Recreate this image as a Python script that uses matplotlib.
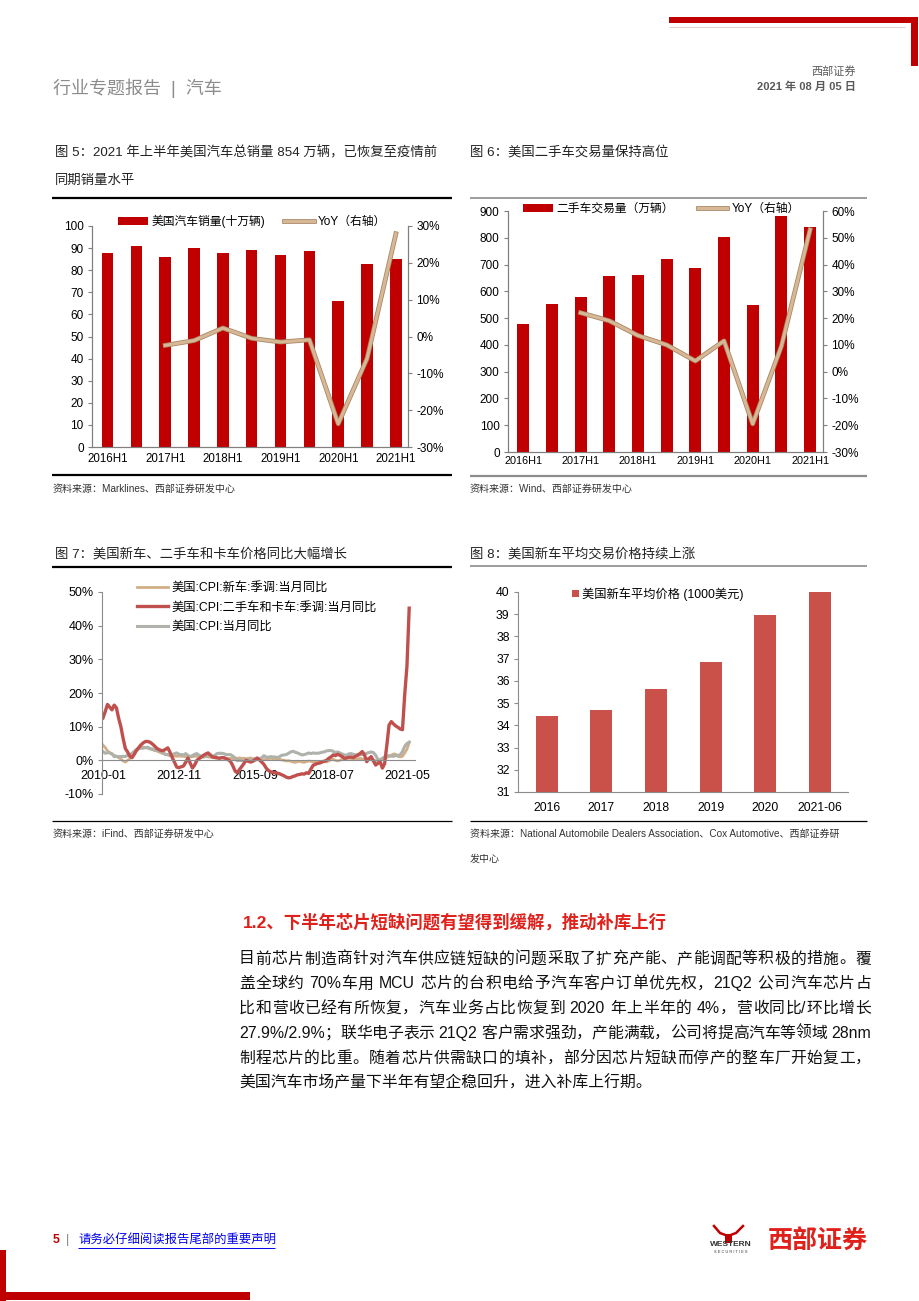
import re
import numpy as np
import pandas as pd
import matplotlib
matplotlib.use('Agg')
import matplotlib.pyplot as plt
from matplotlib.lines import Line2D
from matplotlib.patches import Rectangle
import matplotlib.patheffects as pe
from matplotlib.ticker import FuncFormatter

plt.rcParams['font.family'] = ['Liberation Sans', 'Noto Sans CJK SC']
plt.rcParams['axes.unicode_minus'] = False

# ---------------- 数据 ----------------
half_years = ['2016H1', '2016H2', '2017H1', '2017H2', '2018H1', '2018H2',
              '2019H1', '2019H2', '2020H1', '2020H2', '2021H1']
us_sales = [88, 91, 86, 90, 88, 89, 87, 88.5, 66, 83, 85]          # 十万辆
us_sales_yoy = [np.nan, np.nan, -2.4, -1.1, 2.3, -0.5, -1.5, -0.9, -23.7, -6.0, 27.9]
used_trades = [478, 553, 580, 657, 660, 720, 686, 803, 549, 880, 840]  # 万辆
used_yoy = [np.nan, np.nan, 22.0, 19.0, 13.5, 10.0, 4.0, 11.5, -19.5, 9.5, 53.0]

months = pd.period_range('2010-01', '2021-06', freq='M').strftime('%Y-%m').tolist()
cpi_used = [12.6, 14.5, 16.6, 15.8, 15.0, 16.4, 15.6, 12.5, 10.0, 6.5, 3.5, 2.5,
            1.2, 0.8, 1.8, 3.0, 3.8, 4.6, 5.2, 5.6, 5.6, 5.4, 4.9, 4.3,
            3.6, 3.2, 2.9, 2.9, 3.3, 3.7, 2.4, 0.8, -0.6, -2.0, -2.2, -1.9,
            -1.7, -0.6, 0.7, -0.8, -2.3, -1.4, 0.0, 0.5, 1.0, 1.5, 1.9, 2.2,
            1.6, 1.0, 0.9, 0.8, 0.6, 0.8, 0.8, 0.5, 0.2, -0.3, -1.5, -3.0,
            -3.7, -2.8, -1.9, -1.0, 0.0, -0.3, -0.5, -0.3, 0.2, 0.7, 0.1, -0.5,
            -1.2, -2.3, -3.0, -3.4, -3.6, -3.7, -3.8, -4.0, -4.3, -4.6, -5.0, -5.2,
            -5.1, -4.8, -4.6, -4.3, -4.2, -4.0, -4.1, -3.7, -3.9, -2.6, -1.5, -1.2,
            -0.9, -0.8, -0.5, -0.3, 0.0, 0.6, 1.0, 1.6, 1.4, 1.8, 1.5, 1.1,
            0.6, 0.7, 0.9, 1.0, 0.8, 1.2, 1.5, 2.0, 2.6, 1.6, -0.4, 0.5,
            1.1, -0.2, -1.4, -0.9, -0.4, -2.3, -1.0, 4.5, 10.5, 11.5, 10.8, 10.2,
            9.8, 9.3, 9.1, 19.5, 28.0, 45.2]
cpi_new = [4.5, 3.8, 2.8, 2.3, 1.8, 1.5, 1.2, 0.8, 0.4, -0.2, -0.5, 0.0,
           0.5, 1.2, 2.0, 2.8, 3.4, 3.7, 3.9, 3.8, 3.6, 3.4, 3.2, 3.0,
           2.8, 2.5, 2.2, 2.0, 1.8, 1.6, 1.5, 1.4, 1.3, 1.2, 1.3, 1.2,
           1.2, 1.1, 1.0, 1.0, 1.1, 1.2, 1.2, 1.1, 1.0, 1.0, 1.1, 1.0,
           0.9, 0.8, 0.7, 0.6, 0.6, 0.7, 0.7, 0.6, 0.5, 0.6, 0.5, 0.5,
           0.6, 0.7, 0.6, 0.6, 0.5, 0.6, 0.7, 0.5, 0.5, 0.6, 0.4, 0.3,
           0.1, 0.4, 0.5, 0.6, 0.5, 0.5, 0.4, 0.3, 0.1, 0.0, -0.2, -0.1,
           -0.3, -0.5, -0.6, -0.4, -0.3, -0.5, -0.6, -0.4, -0.2, -0.3, -0.5, -0.6,
           -0.7, -0.4, -0.3, -0.2, -0.5, -0.2, 0.2, 0.3, 0.0, -0.2, 0.0, 0.3,
           0.3, 0.6, 0.7, 0.5, 0.3, 0.2, 0.4, 0.6, 0.4, 0.2, 0.6, 0.3,
           0.2, 0.1, -0.1, -0.3, 0.1, 0.5, 0.8, 0.9, 1.2, 1.5, 1.9, 1.8,
           1.2, 1.0, 1.2, 2.2, 3.3, 5.3]
cpi_all = [2.6, 2.1, 2.3, 2.2, 2.0, 1.1, 1.2, 1.1, 1.1, 1.2, 1.1, 1.5,
           1.6, 2.1, 2.7, 3.2, 3.6, 3.6, 3.6, 3.8, 3.9, 3.5, 3.4, 3.0,
           2.9, 2.9, 2.7, 2.3, 1.7, 1.7, 1.4, 1.7, 2.0, 2.2, 1.8, 1.7,
           1.6, 2.0, 1.5, 1.1, 1.4, 1.8, 2.0, 1.5, 1.2, 1.0, 1.2, 1.5,
           1.6, 1.1, 1.5, 2.0, 2.1, 2.1, 2.0, 1.7, 1.7, 1.7, 1.3, 0.8,
           -0.1, 0.0, -0.1, -0.2, 0.0, 0.1, 0.2, 0.2, 0.0, 0.2, 0.5, 0.7,
           1.4, 1.0, 0.9, 1.1, 1.0, 1.0, 0.8, 1.1, 1.5, 1.6, 1.7, 2.1,
           2.5, 2.7, 2.4, 2.2, 1.9, 1.6, 1.7, 1.9, 2.2, 2.0, 2.2, 2.1,
           2.1, 2.2, 2.4, 2.5, 2.8, 2.9, 2.9, 2.7, 2.3, 2.5, 2.2, 1.9,
           1.6, 1.5, 1.9, 2.0, 1.8, 1.6, 1.8, 1.7, 1.7, 1.8, 2.1, 2.3,
           2.5, 2.3, 1.5, 0.3, 0.1, 0.6, 1.0, 1.3, 1.4, 1.2, 1.2, 1.4,
           1.4, 1.7, 2.6, 4.2, 5.0, 5.4]
cpi_ticks = ['2010-01', '2012-11', '2015-09', '2018-07', '2021-05']

price_years = ['2016', '2017', '2018', '2019', '2020', '2021-06']
avg_price = [34.44, 34.68, 35.64, 36.85, 38.98, 40.0]  # 1000美元

paragraph = [
    '目前芯片制造商针对汽车供应链短缺的问题采取了扩充产能、产能调配等积极的措施。覆',
    '盖全球约 70%车用 MCU 芯片的台积电给予汽车客户订单优先权，21Q2 公司汽车芯片占',
    '比和营收已经有所恢复，汽车业务占比恢复到 2020 年上半年的 4%，营收同比/环比增长',
    '27.9%/2.9%；联华电子表示 21Q2 客户需求强劲，产能满载，公司将提高汽车等领域 28nm',
    '制程芯片的比重。随着芯片供需缺口的填补，部分因芯片短缺而停产的整车厂开始复工，',
    '美国汽车市场产量下半年有望企稳回升，进入补库上行期。',
]

# ---------------- 页面 ----------------
W, H = 920, 1301
fig = plt.figure(figsize=(W / 100, H / 100), dpi=100)

def fx(x):
    return x / W

def fy(y):
    return 1 - y / H

def add_ax(x0, y0, x1, y1):
    return fig.add_axes([fx(x0), fy(y1), (x1 - x0) / W, (y1 - y0) / H])

def txt(x, y, s, **kw):
    kw.setdefault('va', 'center')
    return fig.text(fx(x), fy(y), s, **kw)

def hline(x0, x1, y, lw, color):
    fig.add_artist(Line2D([fx(x0), fx(x1)], [fy(y), fy(y)], transform=fig.transFigure,
                          lw=lw, color=color, solid_capstyle='butt'))

def rect(x0, y0, x1, y1, color):
    fig.add_artist(Rectangle((fx(x0), fy(y1)), (x1 - x0) / W, (y1 - y0) / H,
                             transform=fig.transFigure, color=color, lw=0))

RED = '#C00000'
TAN = '#D6B897'
TAN_EDGE = '#A98763'
GREY_AX = '#7F7F7F'
yoy_fx = [pe.Stroke(linewidth=3.4, foreground=TAN_EDGE), pe.Normal()]
pct = FuncFormatter(lambda v, p: '%d%%' % v)

# 页眉
rect(669, 17, 918, 23, RED)
rect(911, 17, 918, 66, RED)
hline(669, 905, 27, 0.6, '#E8C8C8')
txt(53, 88, '行业专题报告  |  汽车', fontsize=13, color='#8C8C8C')
txt(856, 71, '西部证券', fontsize=8, color='#595959', ha='right')
txt(856, 87, '2021 年 08 月 05 日', fontsize=8, color='#595959', ha='right', fontweight='bold')

# 标题与来源
tfs = 9.6
txt(55, 153, '图 5：2021 年上半年美国汽车总销量 854 万辆，已恢复至疫情前', fontsize=tfs, color='#222222')
txt(55, 181, '同期销量水平', fontsize=tfs, color='#222222')
txt(470, 153, '图 6：美国二手车交易量保持高位', fontsize=tfs, color='#222222')
txt(55, 554, '图 7：美国新车、二手车和卡车价格同比大幅增长', fontsize=tfs, color='#222222')
txt(470, 554, '图 8：美国新车平均交易价格持续上涨', fontsize=tfs, color='#222222')

sfs = 7.2
txt(53, 489, '资料来源：Marklines、西部证券研发中心', fontsize=sfs, color='#333333')
txt(470, 489, '资料来源：Wind、西部证券研发中心', fontsize=sfs, color='#333333')
txt(53, 834, '资料来源：iFind、西部证券研发中心', fontsize=sfs, color='#333333')
txt(470, 834, '资料来源：National Automobile Dealers Association、Cox Automotive、西部证券研',
    fontsize=sfs, color='#333333')
txt(470, 859, '发中心', fontsize=sfs, color='#333333')

hline(52, 452, 198, 1.6, '#000000')
hline(52, 452, 475, 1.6, '#000000')
hline(470, 867, 198, 1.2, '#8C8C8C')
hline(470, 867, 476, 1.6, '#8C8C8C')
hline(52, 452, 567, 1.6, '#000000')
hline(470, 867, 566, 1.2, '#8C8C8C')
hline(52, 452, 821, 0.9, '#000000')
hline(470, 867, 821, 0.9, '#000000')

def style_bar_axes(ax, ax2):
    for a in (ax, ax2):
        a.spines['top'].set_visible(False)
        for s in ('left', 'right', 'bottom'):
            a.spines[s].set_color(GREY_AX)
            a.spines[s].set_linewidth(0.8)
    ax.tick_params(axis='y', direction='out', length=3, color=GREY_AX, labelsize=8.5, pad=3)
    ax2.tick_params(axis='y', direction='out', length=3, color=GREY_AX, labelsize=8.5, pad=3)
    ax.tick_params(axis='x', length=0, labelsize=8.3, pad=4)
    ax.patch.set_alpha(0)

# ---------------- 图 5 ----------------
ax5 = add_ax(92, 226, 408, 447)
x = np.arange(len(half_years))
b5 = ax5.bar(x, us_sales, width=0.40, color=RED)
ax5.set_ylim(0, 100)
ax5.set_yticks(range(0, 101, 10))
ax5.set_xlim(-0.54, 10.42)
ax5.set_xticks(x[::2])
ax5.set_xticklabels(half_years[::2])
ax5b = ax5.twinx()
l5, = ax5b.plot(x, us_sales_yoy, color=TAN, lw=2.2, path_effects=yoy_fx)
ax5b.set_ylim(-30, 30)
ax5b.set_yticks(range(-30, 31, 10))
ax5b.yaxis.set_major_formatter(pct)
style_bar_axes(ax5, ax5b)
ax5.legend([b5, l5], ['美国汽车销量(十万辆)', 'YoY（右轴）'], ncol=2, frameon=False,
           loc='upper left', bbox_to_anchor=(fx(118), fy(215)), bbox_transform=fig.transFigure,
           borderpad=0, borderaxespad=0, fontsize=8.5, handlelength=2.5, handleheight=0.7,
           handletextpad=0.35, columnspacing=1.6)

# ---------------- 图 6 ----------------
ax6 = add_ax(508, 211, 823, 452)
b6 = ax6.bar(x, used_trades, width=0.42, color=RED)
ax6.set_ylim(0, 900)
ax6.set_yticks(range(0, 901, 100))
ax6.set_xlim(-0.53, 10.45)
ax6.set_xticks(x[::2])
ax6.set_xticklabels(half_years[::2])
ax6b = ax6.twinx()
l6, = ax6b.plot(x, used_yoy, color=TAN, lw=2.2, path_effects=yoy_fx)
ax6b.set_ylim(-30, 60)
ax6b.set_yticks(range(-30, 61, 10))
ax6b.yaxis.set_major_formatter(pct)
style_bar_axes(ax6, ax6b)
ax6.tick_params(axis='x', labelsize=7.8, pad=3)
ax6.legend([b6, l6], ['二手车交易量（万辆）', 'YoY（右轴）'], ncol=2, frameon=False,
           loc='upper left', bbox_to_anchor=(fx(523), fy(203)), bbox_transform=fig.transFigure,
           borderpad=0, borderaxespad=0, fontsize=8.5, handlelength=2.5, handleheight=0.7,
           handletextpad=0.35, columnspacing=2.0)

# ---------------- 图 7 ----------------
ax7 = add_ax(102, 592, 415, 794)
t = np.arange(len(months))
ax7.plot(t, cpi_new, color='#D2AE86', lw=2.0, label='美国:CPI:新车:季调:当月同比')
ax7.plot(t, cpi_all, color='#AEB2AA', lw=2.2, label='美国:CPI:当月同比')
ax7.plot(t, cpi_used, color='#C0504D', lw=2.4, label='美国:CPI:二手车和卡车:季调:当月同比')
ax7.set_ylim(-10, 50)
ax7.set_yticks(range(-10, 51, 10))
ax7.yaxis.set_major_formatter(pct)
ax7.set_xlim(-0.45, 139.6)
ax7.set_xticks([months.index(m) for m in cpi_ticks])
ax7.set_xticklabels(cpi_ticks)
for s in ('top', 'right'):
    ax7.spines[s].set_visible(False)
ax7.spines['bottom'].set_position(('data', 0))
ax7.spines['bottom'].set_color('#8C8C8C')
ax7.spines['bottom'].set_linewidth(0.8)
ax7.spines['left'].set_color('#8C8C8C')
ax7.spines['left'].set_linewidth(0.8)
ax7.tick_params(axis='y', direction='out', length=3, color='#8C8C8C', labelsize=9, pad=3)
ax7.tick_params(axis='x', length=0, labelsize=9, pad=7)
h = ax7.get_legend_handles_labels()[0]
ax7.legend([h[0], h[2], h[1]], ['美国:CPI:新车:季调:当月同比', '美国:CPI:二手车和卡车:季调:当月同比',
                                '美国:CPI:当月同比'],
           frameon=False, loc='upper left', bbox_to_anchor=(fx(137), fy(582)),
           bbox_transform=fig.transFigure, borderpad=0, borderaxespad=0, fontsize=8.8,
           handlelength=2.5, handletextpad=0.35, labelspacing=0.62)

# ---------------- 图 8 ----------------
ax8 = add_ax(518, 592, 848, 792)
xp = np.arange(len(price_years))
ax8.bar(xp, avg_price, width=0.40, color='#C9514A', label='美国新车平均价格 (1000美元)')
ax8.set_ylim(31, 40)
ax8.set_yticks(range(31, 41))
ax8.set_xlim(-0.525, 5.51)
ax8.set_xticks(xp)
ax8.set_xticklabels(price_years)
for s in ('top', 'right'):
    ax8.spines[s].set_visible(False)
for s in ('left', 'bottom'):
    ax8.spines[s].set_color('#8C8C8C')
    ax8.spines[s].set_linewidth(0.8)
ax8.tick_params(axis='y', direction='out', length=3, color='#8C8C8C', labelsize=8.8, pad=3)
ax8.tick_params(axis='x', length=0, labelsize=8.8, pad=7)
ax8.legend(frameon=False, loc='upper left', bbox_to_anchor=(fx(572), fy(587)),
           bbox_transform=fig.transFigure, borderpad=0, borderaxespad=0, fontsize=8.8,
           handlelength=0.55, handleheight=0.55, handletextpad=0.3)

# ---------------- 正文 ----------------
txt(243, 922, '1.2、下半年芯片短缺问题有望得到缓解，推动补库上行', fontsize=12.5,
    color='#E0201A', fontweight='bold')

# 两端对齐：逐字摆放
renderer = fig.canvas.get_renderer()
left, right = 239, 871
for i, line in enumerate(paragraph):
    yy = 959 + i * 24.8
    tokens = re.findall(r'[A-Za-z0-9.%/]+|.', line)
    if i == len(paragraph) - 1:
        txt(left, yy, line, fontsize=11.4, color='#111111')
        continue
    items = [txt(0, yy, tk, fontsize=11.4, color='#111111') for tk in tokens]
    widths = [it.get_window_extent(renderer).width for it in items]
    gap = (right - left - sum(widths)) / (len(items) - 1)
    pos = left
    for it, w in zip(items, widths):
        it.set_x(fx(pos))
        pos += w + gap

# ---------------- 页脚 ----------------
txt(53, 1240, '5', fontsize=8.8, color=RED, fontweight='bold')
txt(66, 1240, '|', fontsize=8.8, color='#808080')
txt(78, 1240, '请务必仔细阅读报告尾部的重要声明', fontsize=8.9, color='#0000EE')
hline(78, 275, 1248, 0.7, '#0000EE')
fig.add_artist(Line2D([fx(714), fx(720), fx(728), fx(736), fx(743)],
                      [fy(1226), fy(1233), fy(1236), fy(1233), fy(1226)],
                      transform=fig.transFigure, lw=1.8, color=RED))
rect(725, 1234, 732, 1243, RED)
txt(731, 1244, 'WESTERN', fontsize=6, color='#333333', fontweight='bold', ha='center')
txt(731, 1252, 'S E C U R I T I E S', fontsize=2.8, color='#333333', ha='center')
txt(768, 1241, '西部证券', fontsize=18, color='#E0201A', fontweight='bold')
rect(0, 1250, 6, 1301, RED)
rect(0, 1292, 250, 1300, RED)

fig.savefig('out.png', dpi=100)
